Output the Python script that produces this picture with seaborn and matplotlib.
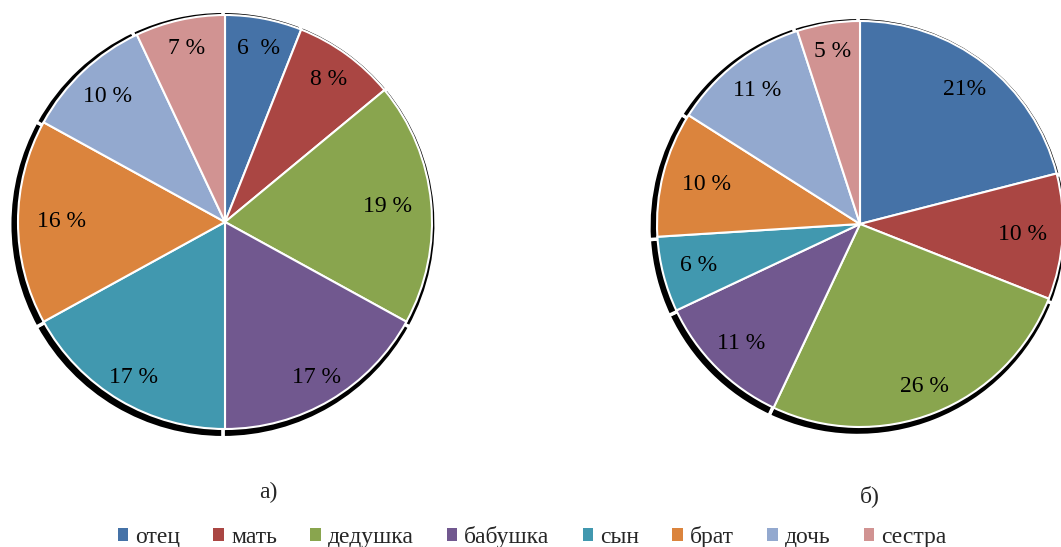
import matplotlib
matplotlib.use("Agg")
import matplotlib.pyplot as plt
import seaborn as sns
import numpy as np
from matplotlib.patches import Patch

# ---- data ----
categories = ["отец", "мать", "дедушка", "бабушка", "сын", "брат", "дочь", "сестра"]
values_a = [6, 8, 19, 17, 17, 16, 10, 7]
values_b = [21, 10, 26, 11, 6, 10, 11, 5]
labels_a = ["6  %", "8 %", "19 %", "17 %", "17 %", "16 %", "10 %", "7 %"]
labels_b = ["21%", "10 %", "26 %", "11 %", "6 %", "10 %", "11 %", "5 %"]
captions = ["а)", "б)"]

colors = ["#4572A7", "#AA4643", "#89A54E", "#71588F",
          "#4198AF", "#DB843D", "#93A9CF", "#D19392"]

sns.set_theme(style="white")
plt.rcParams['font.family'] = ['Liberation Serif', 'DejaVu Serif']

W, H = 1061, 547
fig = plt.figure(figsize=(W / 100, H / 100), dpi=100)


def make_ax(cx, cy, r):
    ax = fig.add_axes([(cx - r) / W, (H - cy - r) / H, 2 * r / W, 2 * r / H])
    ax.set_xlim(-1, 1)
    ax.set_ylim(-1, 1)
    ax.set_aspect("equal")
    ax.axis("off")
    return ax


def draw_pie(ax, vals, labels, lab_r):
    # shadow
    ax.pie(vals, colors=["black"] * len(vals), startangle=90, counterclock=False,
           radius=1.03, center=(-0.01, -0.012),
           wedgeprops=dict(edgecolor="white", linewidth=2.5), frame=False)
    wedges, _ = ax.pie(vals, colors=colors, startangle=90, counterclock=False,
                       radius=1.0, wedgeprops=dict(edgecolor="white", linewidth=1.5),
                       frame=False)
    for w, lab, rr in zip(wedges, labels, lab_r):
        ang = np.deg2rad((w.theta1 + w.theta2) / 2)
        ax.text(rr * np.cos(ang), rr * np.sin(ang), lab, ha="center", va="center",
                fontsize=17, color="black")
    ax.set_xlim(-1, 1)
    ax.set_ylim(-1, 1)


ax1 = make_ax(225, 222, 207)
draw_pie(ax1, values_a, labels_a, [0.855, 0.85, 0.79, 0.87, 0.87, 0.79, 0.83, 0.86])
ax2 = make_ax(860, 224, 203)
draw_pie(ax2, values_b, labels_b, [0.84, 0.80, 0.86, 0.83, 0.82, 0.78, 0.83, 0.86])

fig.text(268 / W, 1 - 492 / H, captions[0], ha="center", va="center", fontsize=17)
fig.text(870 / W, 1 - 496 / H, captions[1], ha="center", va="center", fontsize=17)

handles = [Patch(facecolor=c, edgecolor="none") for c in colors]
fig.legend(handles, categories, loc="center", bbox_to_anchor=(532 / W, 1 - 537 / H),
           ncol=8, frameon=False, fontsize=17, handlelength=0.45, handleheight=0.45,
           handletextpad=0.3, columnspacing=1.4, borderaxespad=0)

fig.savefig("out.png", dpi=100)
